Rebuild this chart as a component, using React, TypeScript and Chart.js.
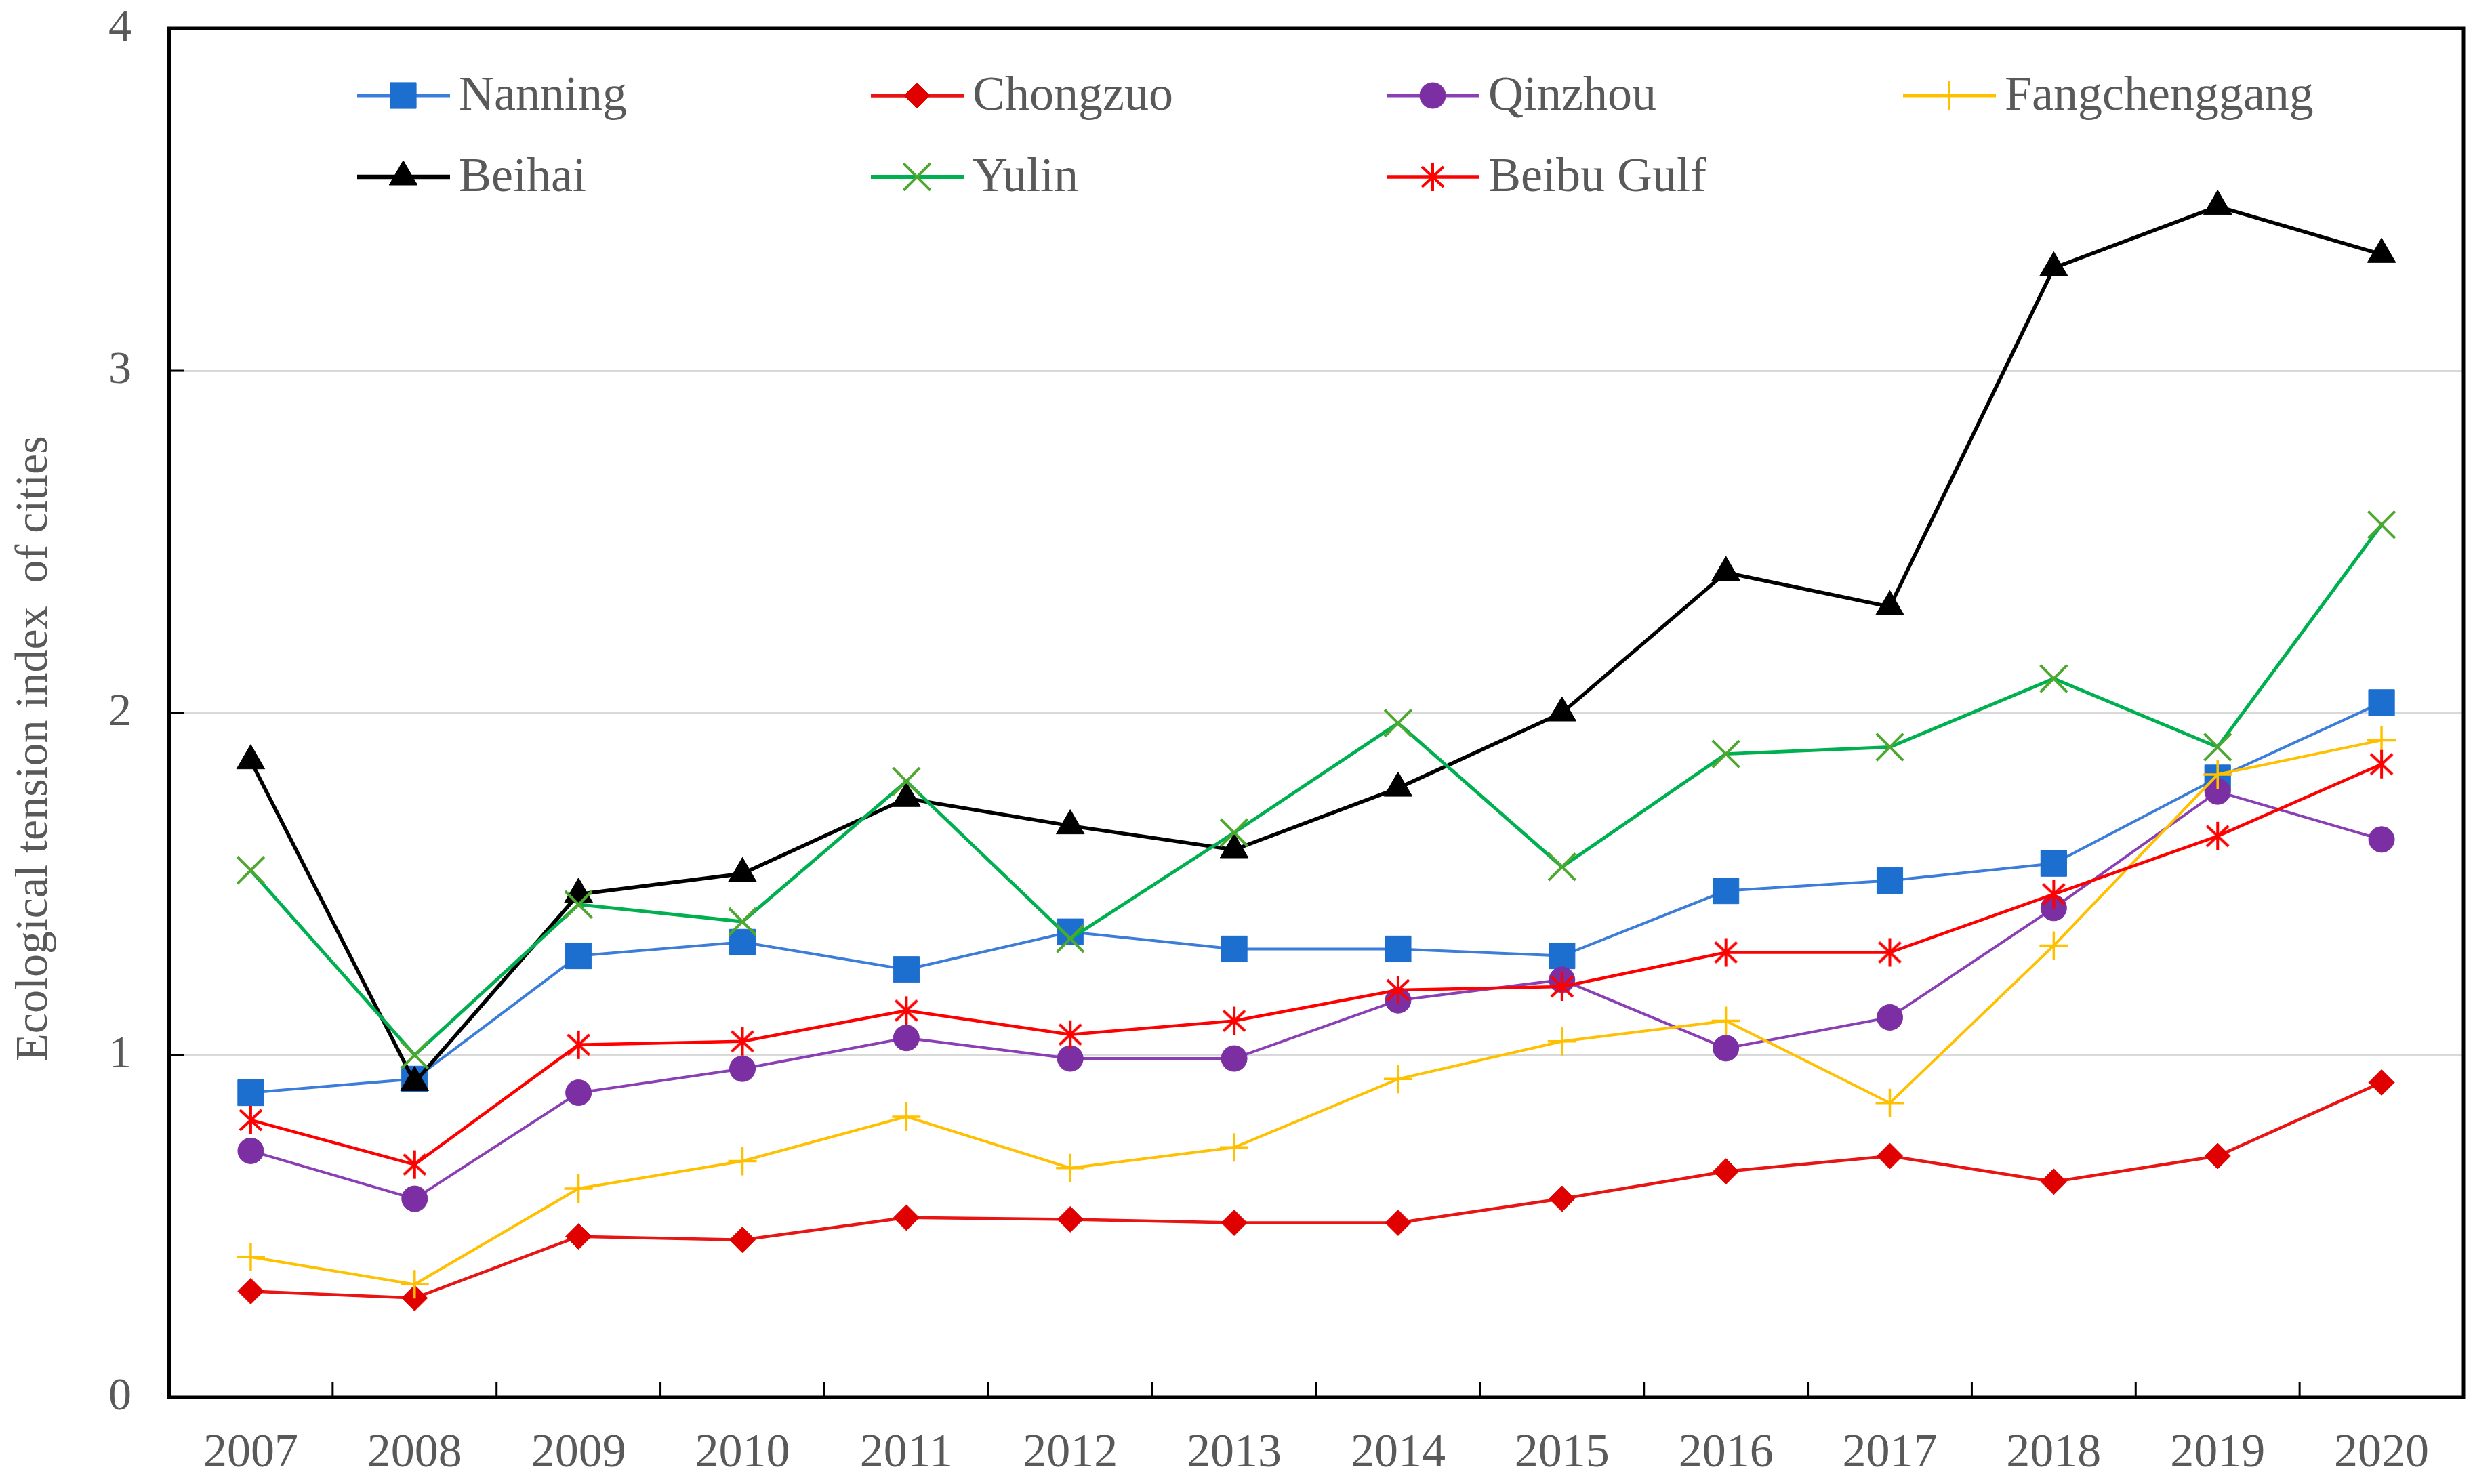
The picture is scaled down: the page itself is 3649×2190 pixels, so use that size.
import React, { useEffect, useRef } from 'react';
import { Chart, registerables } from 'chart.js';
import { drawPoint } from 'chart.js/helpers';

Chart.register(...registerables);

const years = ['2007', '2008', '2009', '2010', '2011', '2012', '2013', '2014', '2015', '2016', '2017', '2018', '2019', '2020'];
const nanning = [0.89, 0.93, 1.29, 1.33, 1.25, 1.36, 1.31, 1.31, 1.29, 1.48, 1.51, 1.56, 1.81, 2.03];
const chongzuo = [0.31, 0.29, 0.47, 0.46, 0.525, 0.52, 0.51, 0.51, 0.58, 0.66, 0.705, 0.63, 0.705, 0.92];
const qinzhou = [0.72, 0.58, 0.89, 0.96, 1.05, 0.99, 0.99, 1.16, 1.22, 1.02, 1.11, 1.43, 1.77, 1.63];
const fangchenggang = [0.41, 0.33, 0.61, 0.69, 0.82, 0.67, 0.73, 0.93, 1.04, 1.10, 0.86, 1.32, 1.82, 1.92];
const beihai = [1.86, 0.92, 1.47, 1.53, 1.75, 1.67, 1.60, 1.78, 2.00, 2.41, 2.31, 3.30, 3.48, 3.34];
const yulin = [1.54, 1.00, 1.44, 1.39, 1.80, 1.34, 1.65, 1.97, 1.55, 1.88, 1.90, 2.10, 1.90, 2.55];
const beibuGulf = [0.81, 0.68, 1.03, 1.04, 1.13, 1.06, 1.10, 1.19, 1.20, 1.30, 1.30, 1.47, 1.64, 1.85];
const seriesNames = ['Nanning', 'Chongzuo', 'Qinzhou', 'Fangchenggang', 'Beihai', 'Yulin', 'Beibu Gulf'];
const yTicks = [0, 1, 2, 3, 4];
const yTitle = 'Ecological tension index  of cities';

const FONT = '"Liberation Serif", "Times New Roman", serif';
const TEXT = '#595959';
const CLEAR = 'rgba(0,0,0,0)';

function makeAsterisk(color: string): HTMLCanvasElement {
  const c = document.createElement('canvas');
  c.width = 46;
  c.height = 46;
  const g = c.getContext('2d')!;
  g.strokeStyle = color;
  g.lineWidth = 4;
  g.lineCap = 'butt';
  g.beginPath();
  g.moveTo(23, 2);
  g.lineTo(23, 44);
  g.moveTo(7, 8);
  g.lineTo(39, 38);
  g.moveTo(39, 8);
  g.lineTo(7, 38);
  g.stroke();
  return c;
}

export default function App() {
  const ref = useRef<HTMLCanvasElement | null>(null);

  useEffect(() => {
    if (!ref.current) return;
    const star = makeAsterisk('#FF0000');

    const defs = [
      { data: nanning, line: '#3B7DD8', mark: '#1C6ECF', style: 'rect', r: 27, bw: 1, lw: 4 },
      { data: chongzuo, line: '#E81515', mark: '#E00000', style: 'rectRot', r: 19, bw: 1, lw: 4.5 },
      { data: qinzhou, line: '#8A3FB5', mark: '#7B2FA3', style: 'circle', r: 19, bw: 1, lw: 4 },
      { data: fangchenggang, line: '#FFC000', mark: '#FFC000', style: 'cross', r: 21, bw: 3.5, lw: 4 },
      { data: beihai, line: '#000000', mark: '#000000', style: 'triangle', r: 24, bw: 1, lw: 5.5 },
      { data: yulin, line: '#00B050', mark: '#4EA72E', style: 'crossRot', r: 28, bw: 4, lw: 5 },
      { data: beibuGulf, line: '#FF0000', mark: '#FF0000', style: 'star', r: 23, bw: 4, lw: 4.5 },
    ];

    const datasets = defs.map((d, i) => ({
      label: seriesNames[i],
      data: d.data,
      borderColor: d.line,
      backgroundColor: d.mark,
      borderWidth: d.lw,
      pointStyle: d.style === 'star' ? (star as any) : d.style,
      pointRadius: d.r,
      pointBorderWidth: d.bw,
      pointBackgroundColor: d.mark,
      pointBorderColor: d.mark,
      tension: 0,
      order: defs.length - 1 - i,
    }));

    const decor = {
      id: 'decor',
      beforeDatasetsDraw(chart: any) {
        const { ctx, chartArea: a, scales } = chart;
        ctx.save();
        ctx.strokeStyle = '#000';
        ctx.lineWidth = 3;
        const xs = scales.x;
        ctx.beginPath();
        for (let i = 0; i < years.length - 1; i++) {
          const px = (xs.getPixelForValue(i) + xs.getPixelForValue(i + 1)) / 2;
          ctx.moveTo(px, a.bottom);
          ctx.lineTo(px, a.bottom - 22);
        }
        const ys = scales.y;
        for (const v of yTicks) {
          const py = ys.getPixelForValue(v);
          ctx.moveTo(a.left, py);
          ctx.lineTo(a.left + 22, py);
        }
        ctx.stroke();
        ctx.lineWidth = 5;
        ctx.strokeRect(a.left, a.top, a.right - a.left, a.bottom - a.top);
        ctx.restore();
      },
      afterDraw(chart: any) {
        const { ctx } = chart;
        ctx.save();
        ctx.fillStyle = TEXT;
        ctx.font = `68px ${FONT}`;
        ctx.textAlign = 'center';
        ctx.textBaseline = 'middle';
        ctx.translate(51, 1105);
        ctx.rotate(-Math.PI / 2);
        ctx.fillText(yTitle, 0, 0);
        ctx.restore();

        const colX = [527, 1285, 2046, 2808];
        const rowY = [141, 261];
        defs.forEach((d, i) => {
          const x0 = colX[i % 4];
          const y0 = rowY[Math.floor(i / 4)];
          ctx.save();
          ctx.strokeStyle = d.line;
          ctx.lineWidth = d.lw + 1;
          ctx.beginPath();
          ctx.moveTo(x0, y0);
          ctx.lineTo(x0 + 137, y0);
          ctx.stroke();
          ctx.fillStyle = d.mark;
          ctx.strokeStyle = d.mark;
          ctx.lineWidth = d.bw;
          drawPoint(ctx, {
            pointStyle: d.style === 'star' ? star : d.style,
            rotation: 0,
            radius: d.r,
            borderWidth: d.bw,
          } as any, x0 + 68, y0);
          ctx.fillStyle = TEXT;
          ctx.font = `72px ${FONT}`;
          ctx.textAlign = 'left';
          ctx.textBaseline = 'middle';
          ctx.fillText(seriesNames[i], x0 + 150, y0 + 2);
          ctx.restore();
        });
      },
    };

    const chart = new Chart(ref.current, {
      type: 'line',
      data: { labels: years, datasets: datasets as any },
      options: {
        animation: false,
        responsive: true,
        maintainAspectRatio: false,
        layout: { autoPadding: false, padding: { top: 42, right: 14, left: 0, bottom: 0 } },
        plugins: { legend: { display: false }, tooltip: { enabled: false }, title: { display: false } },
        scales: {
          x: {
            type: 'category',
            offset: true,
            grid: { display: true, color: CLEAR, tickColor: CLEAR, drawTicks: true, tickLength: 42 },
            border: { display: true, color: '#000', width: 5 },
            ticks: { color: TEXT, font: { family: FONT, size: 70 }, padding: 0, maxRotation: 0, autoSkip: false },
            afterFit: (s: any) => {
              s.height = 2190 - 2062;
              s.paddingLeft = 0;
              s.paddingRight = 0;
            },
          },
          y: {
            min: 0,
            max: 4,
            grid: { color: '#D9D9D9', lineWidth: 3, drawTicks: true, tickColor: CLEAR, tickLength: 55 },
            border: { display: true, color: '#000', width: 5 },
            ticks: { stepSize: 1, color: TEXT, font: { family: FONT, size: 68 }, padding: 0 },
            afterFit: (s: any) => { s.width = 249; },
          },
        },
      },
      plugins: [decor],
    });
    return () => chart.destroy();
  }, []);

  return (
    <div style={{ position: 'fixed', left: 0, top: 0, width: 3649, height: 2190, background: '#fff' }}>
      <canvas ref={ref} />
    </div>
  );
}
